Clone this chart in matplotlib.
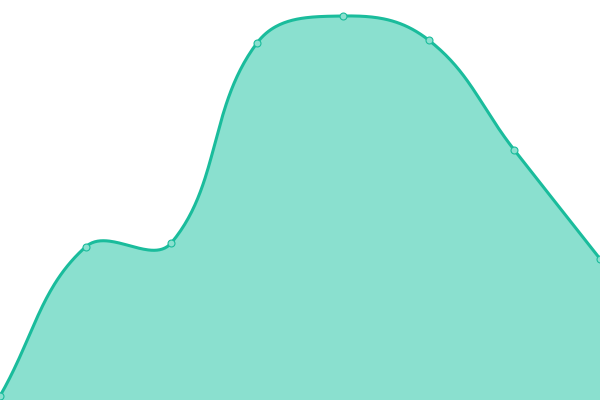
import matplotlib
matplotlib.use("Agg")
import matplotlib.pyplot as plt
import numpy as np

# data (y axis 0..100)
labels = ["A", "B", "C", "D", "E", "F", "G", "H"]
values = [1, 38.3, 39.3, 89.3, 96, 90, 62.5, 35.3]

line_color = "#1abc9c"
fill_color = "#8ae0cf"
tension = 0.4

W, H = 600, 400
fig = plt.figure(figsize=(W / 100, H / 100), dpi=100)
ax = fig.add_axes([0, 0, 1, 1])
xs = np.arange(len(values))
ax.set_xlim(0, len(values) - 1)
ax.set_ylim(0, 100)
ax.axis("off")

# spline like chart.js (computed in pixel space)
sx = W / (len(values) - 1)
sy = H / 100
P = np.column_stack([xs * sx, np.array(values) * sy])
n = len(P)
cp_prev = P.copy()
cp_next = P.copy()
for i in range(n):
    prev = P[max(i - 1, 0)]
    nxt = P[min(i + 1, n - 1)]
    d01 = np.hypot(*(P[i] - prev))
    d12 = np.hypot(*(nxt - P[i]))
    tot = d01 + d12
    s01 = d01 / tot if tot else 0
    s12 = d12 / tot if tot else 0
    cp_prev[i] = P[i] - tension * s01 * (nxt - prev)
    cp_next[i] = P[i] + tension * s12 * (nxt - prev)
cp_prev[:, 1] = np.clip(cp_prev[:, 1], 0, H)
cp_next[:, 1] = np.clip(cp_next[:, 1], 0, H)

t = np.linspace(0, 1, 60)[:, None]
curve = []
for i in range(n - 1):
    p0, p1, p2, p3 = P[i], cp_next[i], cp_prev[i + 1], P[i + 1]
    seg = (1 - t) ** 3 * p0 + 3 * (1 - t) ** 2 * t * p1 + 3 * (1 - t) * t ** 2 * p2 + t ** 3 * p3
    curve.append(seg if i == 0 else seg[1:])
curve = np.vstack(curve)
cx = curve[:, 0] / sx
cy = curve[:, 1] / sy

ax.fill_between(cx, cy, 0, color=fill_color, linewidth=0)
ax.plot(cx, cy, color=line_color, linewidth=2.2, solid_capstyle="round")
ax.plot(xs, values, "o", markersize=5, markerfacecolor=fill_color,
        markeredgecolor=line_color, markeredgewidth=0.8)

fig.savefig("out.png", dpi=100)
